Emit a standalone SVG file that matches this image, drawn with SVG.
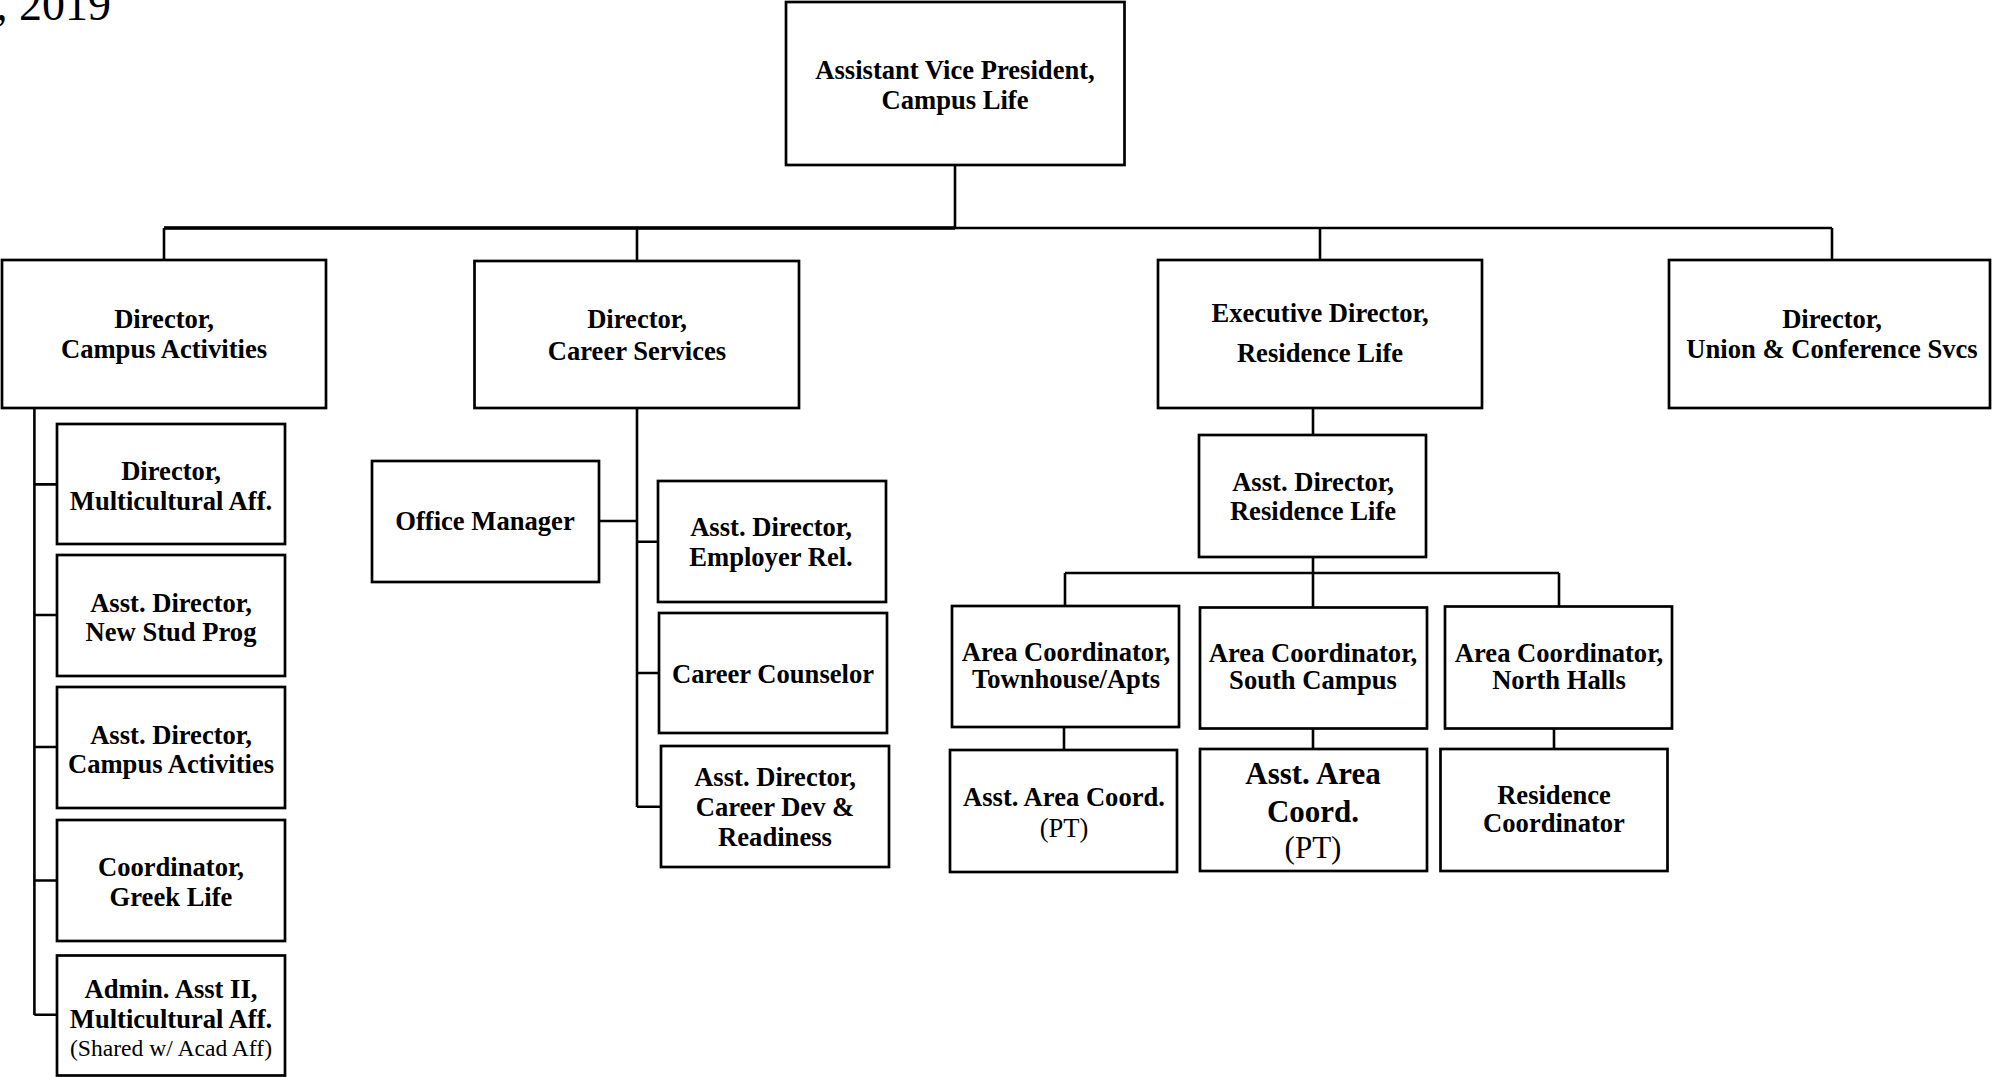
<svg xmlns="http://www.w3.org/2000/svg" width="1992" height="1077" viewBox="0 0 1992 1077">
<style>
rect.n{fill:#fff;stroke:#000;stroke-width:2.7}
text{font-family:"Liberation Serif","Times New Roman",serif;font-size:26.6px;font-weight:bold;text-anchor:middle;fill:#000}
.c{stroke:#000;stroke-width:2.6;fill:none}
</style>
<rect width="1992" height="1077" fill="#fff"/>
<text x="111" y="19.5" style="font-weight:normal;font-size:46px;text-anchor:end">, 2019</text>
<g id="connectors">
<path class="c" d="M955 165V228M164 228H1832M164 228V260M637 228V261M1320 228V260M1832 228V260"/>
<path d="M164 228H955" stroke="#000" stroke-width="3.4"/>
<path class="c" d="M34.4 408V1015M34.4 484.4H57M34.4 615H57M34.4 747H57M34.4 880.5H57M34.4 1014.7H57"/>
<path class="c" d="M637 408V807M599 521H637M637 541.7H658M637 673H659M637 806.7H661"/>
<path class="c" d="M1313 408V435M1313 557V607M1065 573H1559M1065 573V606M1559 573V607M1064 727V750M1313 729V749M1554 728V749"/>
</g>
<g id="avp"><rect class="n" x="786" y="2" width="338.5" height="163"/><text x="955" y="78.5">Assistant Vice President,</text><text x="955" y="108.5">Campus Life</text></g>
<g id="dir-campus-activities"><rect class="n" x="2" y="260" width="324" height="148"/><text x="164" y="328">Director,</text><text x="164" y="358">Campus Activities</text></g>
<g id="dir-career-services"><rect class="n" x="474.5" y="261" width="324.5" height="147"/><text x="637" y="328">Director,</text><text x="637" y="360">Career Services</text></g>
<g id="exec-dir-reslife"><rect class="n" x="1158" y="260" width="324" height="148"/><text x="1320" y="322">Executive Director,</text><text x="1320" y="362">Residence Life</text></g>
<g id="dir-union"><rect class="n" x="1669" y="260" width="321" height="148"/><text x="1832" y="328">Director,</text><text x="1832" y="358">Union &amp; Conference Svcs</text></g>
<g id="dir-multicultural"><rect class="n" x="57" y="424" width="228" height="120"/><text x="171" y="480">Director,</text><text x="171" y="509.5">Multicultural Aff.</text></g>
<g id="ad-new-stud"><rect class="n" x="57" y="555" width="228" height="121"/><text x="171" y="612">Asst. Director,</text><text x="171" y="641">New Stud Prog</text></g>
<g id="ad-campus-act"><rect class="n" x="57" y="687" width="228" height="121"/><text x="171" y="744">Asst. Director,</text><text x="171" y="773">Campus Activities</text></g>
<g id="coord-greek"><rect class="n" x="57" y="820" width="228" height="121"/><text x="171" y="876">Coordinator,</text><text x="171" y="905.5">Greek Life</text></g>
<g id="admin-asst"><rect class="n" x="57" y="955.5" width="228" height="120"/><text x="171" y="997.5">Admin. Asst II,</text><text x="171" y="1027.5">Multicultural Aff.</text><text x="171" y="1056" style="font-weight:normal;font-size:23.6px">(Shared w/ Acad Aff)</text></g>
<g id="office-manager"><rect class="n" x="372" y="461" width="227" height="121"/><text x="485" y="530">Office Manager</text></g>
<g id="ad-employer"><rect class="n" x="658" y="481" width="228" height="121"/><text x="771" y="536">Asst. Director,</text><text x="771" y="566">Employer Rel.</text></g>
<g id="career-counselor"><rect class="n" x="659" y="613" width="228" height="120"/><text x="773" y="682.5">Career Counselor</text></g>
<g id="ad-career-dev"><rect class="n" x="661" y="746" width="228" height="121"/><text x="775" y="786">Asst. Director,</text><text x="775" y="816">Career Dev &amp;</text><text x="775" y="846">Readiness</text></g>
<g id="ad-reslife"><rect class="n" x="1199" y="435" width="227" height="122"/><text x="1313" y="491">Asst. Director,</text><text x="1313" y="520">Residence Life</text></g>
<g id="ac-townhouse"><rect class="n" x="952" y="606" width="227" height="121"/><text x="1066" y="660.5">Area Coordinator,</text><text x="1066" y="687.5">Townhouse/Apts</text></g>
<g id="ac-south"><rect class="n" x="1200" y="607.5" width="227" height="121"/><text x="1313" y="661.5">Area Coordinator,</text><text x="1313" y="689">South Campus</text></g>
<g id="ac-north"><rect class="n" x="1445" y="606.5" width="227" height="122"/><text x="1559" y="661.5">Area Coordinator,</text><text x="1559" y="689">North Halls</text></g>
<g id="aac-townhouse"><rect class="n" x="950" y="750" width="227" height="122"/><text x="1064" y="806">Asst. Area Coord.</text><text x="1064" y="837" style="font-weight:normal">(PT)</text></g>
<g id="aac-south"><rect class="n" x="1200" y="749" width="227" height="122"/><text x="1313" y="784" style="font-size:31px">Asst. Area</text><text x="1313" y="822" style="font-size:31px">Coord.</text><text x="1313" y="858" style="font-weight:normal;font-size:31px">(PT)</text></g>
<g id="res-coord"><rect class="n" x="1440.5" y="749" width="227" height="122"/><text x="1554" y="804">Residence</text><text x="1554" y="832">Coordinator</text></g>
</svg>
